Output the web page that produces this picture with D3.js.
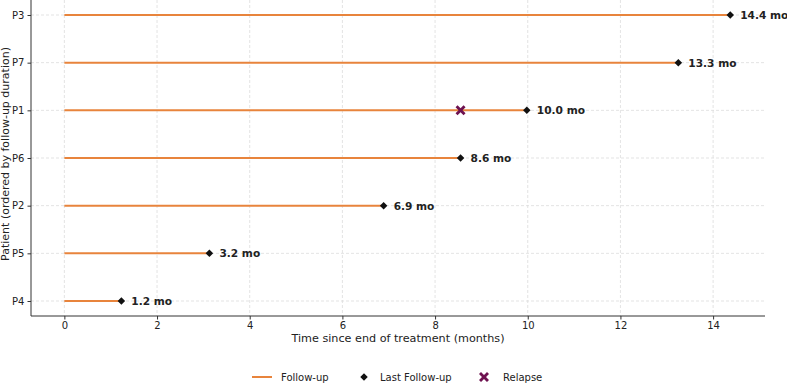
<!DOCTYPE html>
<html lang="en">
<head>
<meta charset="UTF-8">
<title>Follow-up</title>
<script src="https://cdn.jsdelivr.net/npm/d3@7"></script>
<style>
  body { margin: 0; background: #fff; }
  text { font-family: "DejaVu Sans", sans-serif; fill: #222; }
</style>
</head>
<body>
<div id="chart"></div>
<script>
// patients ordered by follow-up duration (top to bottom)
const patients = ["P3", "P7", "P1", "P6", "P2", "P5", "P4"];
const followUp = [14.37, 13.25, 9.98, 8.55, 6.89, 3.13, 1.23];
const followLabels = ["14.4 mo", "13.3 mo", "10.0 mo", "8.6 mo", "6.9 mo", "3.2 mo", "1.2 mo"];
const relapsePatients = ["P1"];
const relapseTimes = [8.55];
const xTicks = [0, 2, 4, 6, 8, 10, 12, 14];

const W = 787, H = 383;
const m = {left: 31, right: 22, top: 0, bottom: 67};
const orange = "#e8843c", relapseColor = "#6e1250";

const svg = d3.select("#chart").append("svg")
  .attr("width", W).attr("height", H);

const x = d3.scaleLinear().domain([-0.72, 15.12]).range([m.left, W - m.right]);
const y = d3.scalePoint().domain(patients.slice().reverse())
  .range([H - m.bottom - 15, m.top + 15]);

// grid
svg.append("g").selectAll("line").data(xTicks).join("line")
  .attr("x1", d => x(d)).attr("x2", d => x(d))
  .attr("y1", m.top).attr("y2", H - m.bottom)
  .attr("stroke", "#dcdcdc").attr("stroke-width", 0.8).attr("stroke-dasharray", "3,2");
svg.append("g").selectAll("line").data(patients).join("line")
  .attr("x1", m.left).attr("x2", W - m.right)
  .attr("y1", d => y(d)).attr("y2", d => y(d))
  .attr("stroke", "#dcdcdc").attr("stroke-width", 0.8).attr("stroke-dasharray", "3,2");

// axes
const xAxis = svg.append("g")
  .attr("transform", `translate(0,${H - m.bottom})`)
  .call(d3.axisBottom(x).tickValues(xTicks).tickSize(3.5).tickPadding(2));
const yAxis = svg.append("g")
  .attr("transform", `translate(${m.left},0)`)
  .call(d3.axisLeft(y).tickSize(3.5).tickPadding(3));
[xAxis, yAxis].forEach(g => {
  g.selectAll("text").style("font-size", "10px").attr("fill", "#222");
  g.selectAll("line").attr("stroke", "#333");
  g.select(".domain").attr("stroke", "#333").attr("stroke-width", 1);
});
xAxis.select(".domain").attr("d", `M${m.left},0H${W - m.right}`);
yAxis.select(".domain").attr("d", `M0,${m.top}V${H - m.bottom}`);

// axis labels
svg.append("text").attr("x", (m.left + W - m.right) / 2).attr("y", H - m.bottom + 26)
  .attr("text-anchor", "middle").style("font-size", "11.2px").text("Time since end of treatment (months)");
svg.append("text")
  .attr("transform", `translate(9,${(m.top + H - m.bottom) / 2 - 4}) rotate(-90)`)
  .attr("text-anchor", "middle").style("font-size", "11px")
  .text("Patient (ordered by follow-up duration)");

const rows = patients.map((p, i) => ({p, v: followUp[i], lab: followLabels[i]}));

// follow-up lines
svg.append("g").selectAll("line").data(rows).join("line")
  .attr("x1", x(0)).attr("x2", d => x(d.v))
  .attr("y1", d => y(d.p)).attr("y2", d => y(d.p))
  .attr("stroke", orange).attr("stroke-width", 2);

// last follow-up diamonds
const diamond = d3.symbol().type(d3.symbolDiamond2).size(36);
svg.append("g").selectAll("path").data(rows).join("path")
  .attr("d", diamond)
  .attr("transform", d => `translate(${x(d.v)},${y(d.p)})`)
  .attr("fill", "#111");

// labels
svg.append("g").selectAll("text").data(rows).join("text")
  .attr("x", d => x(d.v) + 10).attr("y", d => y(d.p) + 4)
  .style("font-size", "10.6px").style("font-weight", "bold").attr("fill", "#111")
  .text(d => d.lab);

// relapse markers (filled X)
const xMark = "M-5,-3 L-3,-5 L0,-2 L3,-5 L5,-3 L2,0 L5,3 L3,5 L0,2 L-3,5 L-5,3 L-2,0 Z";
svg.append("g").selectAll("path").data(relapsePatients).join("path")
  .attr("d", xMark)
  .attr("transform", (d, i) => `translate(${x(relapseTimes[i])},${y(d)})`)
  .attr("fill", relapseColor);

// legend
const lg = svg.append("g").attr("transform", `translate(0,${H - 6})`);
lg.append("line").attr("x1", 252).attr("x2", 272).attr("y1", 0).attr("y2", 0)
  .attr("stroke", orange).attr("stroke-width", 2);
lg.append("text").attr("x", 281).attr("y", 3.5).style("font-size", "10px").text("Follow-up");
lg.append("path").attr("d", diamond).attr("transform", "translate(364,0)").attr("fill", "#111");
lg.append("text").attr("x", 380).attr("y", 3.5).style("font-size", "10px").text("Last Follow-up");
lg.append("path").attr("d", xMark).attr("transform", "translate(484,0)").attr("fill", relapseColor);
lg.append("text").attr("x", 503).attr("y", 3.5).style("font-size", "10px").text("Relapse");
</script>
</body>
</html>
